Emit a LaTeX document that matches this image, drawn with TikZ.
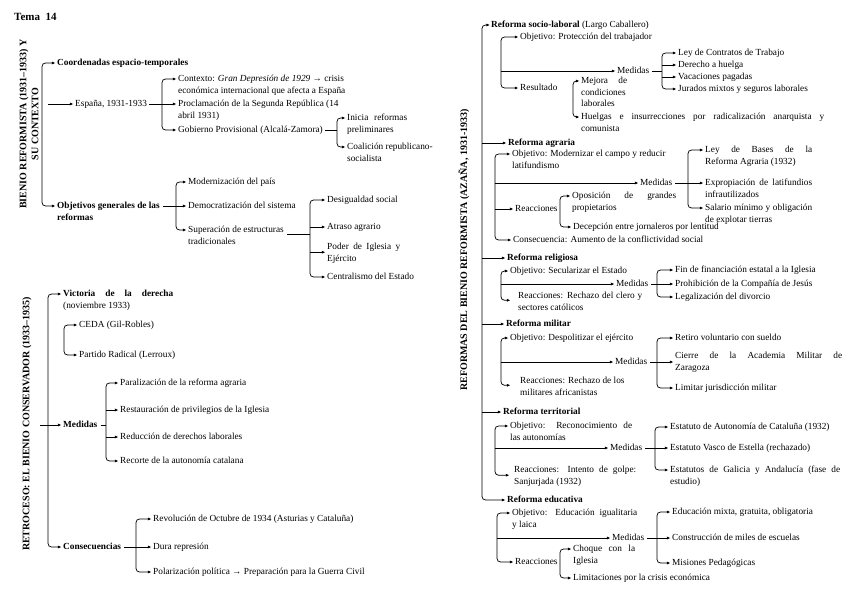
\documentclass[tikz,border=0pt]{standalone}
\usepackage{fontspec}
\setmainfont{Liberation Serif}
\usetikzlibrary{arrows.meta}
\newcommand\fsn{\fontsize{9.3}{11.5}\selectfont}
\newcommand\fsbold{\fontsize{9.3}{11.5}\selectfont\bfseries}
\tikzset{
  arr/.style={draw=black, line width=0.75pt, -{Latex[length=3.6pt,width=3pt]}, shorten >=1.5pt},
  ln/.style={draw=black, line width=0.75pt},
  rc/.style={rounded corners=3.5pt},
  txt/.style={anchor=west, inner sep=0pt, font=\fsn, text height=8.05pt, text depth=3.45pt},
  ml/.style={anchor=north west, inner sep=0pt, font=\fsn, align=left, yshift=5.75pt},
  lab/.style={inner sep=0pt, font=\fontsize{10}{12}\selectfont\bfseries, align=center},
}
\begin{document}
\begin{tikzpicture}[x=1pt,y=-1pt]
\useasboundingbox[fill=white] (0,0) rectangle (848,600);

% Title
\node[anchor=west,inner sep=0pt,font=\fontsize{11}{13}\selectfont\bfseries] (tema) at (14,17) {Tema\ \ 14};

% ===== Left top =====
\node[lab,rotate=90] (lab1) at (29,124) {BIENIO REFORMISTA (1931–1933) Y\\SU CONTEXTO};
\coordinate (L1) at (42,134);
\node[txt,font=\fsbold] (coord) at (57,63) {Coordenadas espacio-temporales};
\node[ml,font=\fsbold] (objg) at (57,206) {\strut Objetivos generales de las\\reformas};
\draw[arr,rc] (L1) |- (coord.west);
\draw[arr,rc] (L1) |- ([yshift=-5.75pt]objg.north west);
\coordinate (espin) at (48,104);
\node[txt] (esp) at (75,104) {España, 1931-1933};
\draw[arr] (espin) -- (esp.west);
\node[ml] (ctx) at (178,79) {\strut Contexto: \textit{Gran Depresión de 1929} → crisis\\económica internacional que afecta a España};
\node[ml] (procl) at (178,104) {\strut Proclamación de la Segunda República (14\\abril 1931)};
\node[txt] (gob) at (178,130) {Gobierno Provisional (Alcalá-Zamora)};
\coordinate (L2) at (162,104);
\draw[arr,shorten <=2pt] (esp.east) -- ([yshift=-5.75pt]procl.north west);
\draw[arr,rc] (L2) |- ([yshift=-5.75pt]ctx.north west);
\draw[arr,rc] (L2) |- (gob.west);
\coordinate (L3) at (337,130);
\draw[ln,shorten <=2pt] (gob.east) -- (L3);
\node[ml] (ini) at (347,118) {\strut\makebox[60pt][s]{Inicia reformas}\\preliminares};
\node[ml] (coal) at (347,147) {\strut Coalición republicano-\\socialista};
\draw[arr,rc] (L3) |- ([yshift=-5.75pt]ini.north west);
\draw[arr,rc] (L3) |- ([yshift=-5.75pt]coal.north west);

\coordinate (L4) at (176,206);
\node[txt] (mod) at (188,182) {Modernización del país};
\node[txt] (dem) at (188,206) {Democratización del sistema};
\node[ml] (sup) at (188,230) {\strut Superación de estructuras\\tradicionales};
\draw[arr,shorten <=3pt] ([yshift=-5.75pt]objg.north east) -- (dem.west);
\draw[arr,rc] (L4) |- (mod.west);
\draw[arr,rc] (L4) |- ([yshift=-5.75pt]sup.north west);

\coordinate (L5) at (310,236);
\draw[ln,shorten <=3pt] (sup.east) -- (sup.east -| L5);
\node[txt] (desig) at (327,200) {Desigualdad social};
\node[txt] (atr) at (327,227) {Atraso agrario};
\node[ml] (pod) at (327,247) {\strut\makebox[73pt][s]{Poder de Iglesia y}\\Ejército};
\node[txt] (cen) at (327,277) {Centralismo del Estado};
\draw[arr,rc] (L5) |- (desig.west);
\draw[arr,rc] (L5) |- (cen.west);
\draw[arr] (atr.west -| L5) -- (atr.west);
\draw[arr] (pod.west -| L5) -- (pod.west);

% ===== Left bottom =====
\node[lab,rotate=90] (lab2) at (27,424) {RETROCESO: EL BIENIO CONSERVADOR (1933–1935)};
\coordinate (L6) at (48,425);
\coordinate (medin) at (40,425);
\node[ml] (vic) at (63,294) {\strut\makebox[110pt][s]{\bfseries Victoria de la derecha}\\(noviembre 1933)};
\node[txt,font=\fsbold] (med1) at (63,425) {Medidas};
\node[txt,font=\fsbold] (cons) at (63,547) {Consecuencias};
\draw[arr,rc] (L6) |- ([yshift=-5.75pt]vic.north west);
\draw[arr,rc] (L6) |- (cons.west);
\draw[arr] (medin) -- (med1.west);
\coordinate (L7) at (64,340);
\node[txt] (ceda) at (79,325) {CEDA (Gil-Robles)};
\node[txt] (prad) at (79,355) {Partido Radical (Lerroux)};
\draw[arr,rc] (L7) |- (ceda.west);
\draw[arr,rc] (L7) |- (prad.west);
\coordinate (L8) at (106,425);
\draw[ln,shorten <=3pt] (med1.east) -- (L8);
\node[txt] (par) at (120,383) {Paralización de la reforma agraria};
\node[txt] (res) at (120,410) {Restauración de privilegios de la Iglesia};
\node[txt] (red) at (120,437) {Reducción de derechos laborales};
\node[txt] (rec) at (120,461) {Recorte de la autonomía catalana};
\draw[arr,rc] (L8) |- (par.west);
\draw[arr,rc] (L8) |- (rec.west);
\draw[arr] (res.west -| L8) -- (res.west);
\draw[arr] (red.west -| L8) -- (red.west);
\coordinate (L9) at (136,547);
\node[txt] (rev) at (153,519) {Revolución de Octubre de 1934 (Asturias y Cataluña)};
\node[txt] (dur) at (153,547) {Dura represión};
\node[txt] (pol) at (153,572) {Polarización política → Preparación para la Guerra Civil};
\draw[arr,shorten <=3pt] (cons.east) -- (dur.west);
\draw[arr,rc] (L9) |- (rev.west);
\draw[arr,rc] (L9) |- (pol.west);

% ===== Right =====
\node[lab,rotate=90] (lab3) at (464,250) {REFORMAS DEL BIENIO REFORMISTA (AZAÑA, 1931-1933)};
\coordinate (R0) at (482,262);
\node[txt] (rsoc) at (491,25) {\textbf{Reforma socio-laboral} (Largo Caballero)};
\node[txt,font=\fsbold] (ragr) at (508,143) {Reforma agraria};
\node[txt,font=\fsbold] (rrel) at (507,258) {Reforma religiosa};
\node[txt,font=\fsbold] (rmil) at (506,324) {Reforma militar};
\node[txt,font=\fsbold] (rter) at (503,412) {Reforma territorial};
\node[txt,font=\fsbold] (redu) at (507,500) {Reforma educativa};
\draw[arr,rc,shorten >=1pt] (R0) |- (rsoc.west);
\draw[arr,rc] (R0) |- (redu.west);
\foreach \n in {ragr,rrel,rmil,rter} \draw[arr] (\n.west -| R0) -- (\n.west);

% socio-laboral
\coordinate (S1) at (501,71);
\node[txt] (sobj) at (520,37) {Objetivo: Protección del trabajador};
\node[txt] (smed) at (617,71) {Medidas};
\node[txt] (sres) at (520,88) {Resultado};
\draw[arr,rc] (S1) |- (sobj.west);
\draw[arr,rc] (S1) |- (sres.west);
\draw[arr] (S1) -- (smed.west);
\coordinate (S2) at (573,99);
\node[ml] (smej) at (581,81) {\strut\makebox[46pt][s]{Mejora de}\\condiciones\\laborales};
\node[ml] (shue) at (581,117) {\strut\makebox[243pt][s]{Huelgas e insurrecciones por radicalización anarquista y}\\comunista};
\draw[arr,rc] (S2) |- ([yshift=-5.75pt]smej.north west);
\draw[arr,rc] (S2) |- ([yshift=-5.75pt]shue.north west);
\coordinate (S3) at (662,71);
\draw[ln,shorten <=3pt] (smed.east) -- (S3);
\node[txt] (sley) at (678,53) {Ley de Contratos de Trabajo};
\node[txt] (sder) at (678,65) {Derecho a huelga};
\node[txt] (svac) at (678,77) {Vacaciones pagadas};
\node[txt] (sjur) at (678,89) {Jurados mixtos y seguros laborales};
\draw[arr,rc] (S3) |- (sley.west);
\draw[arr,rc] (S3) |- (sjur.west);
\draw[arr] (sder.west -| S3) -- (sder.west);
\draw[arr] (svac.west -| S3) -- (svac.west);

% agraria
\coordinate (A1) at (495,183);
\node[ml] (aobj) at (512,154) {\strut Objetivo: Modernizar el campo y reducir\\latifundismo};
\node[txt] (amed) at (640,183) {Medidas};
\node[txt] (area) at (515,209) {Reacciones};
\node[txt] (acon) at (513,240) {Consecuencia: Aumento de la conflictividad social};
\draw[arr,rc] (A1) |- ([yshift=-5.75pt]aobj.north west);
\draw[arr,rc] (A1) |- (acon.west);
\draw[arr] (A1) -- (amed.west);
\draw[arr] (area.west -| A1) -- (area.west);
\coordinate (A2) at (688,183);
\node[ml] (aley) at (705,150) {\strut\makebox[107pt][s]{Ley de Bases de la}\\Reforma Agraria (1932)};
\node[ml] (aexp) at (705,183) {\strut\makebox[107pt][s]{Expropiación de latifundios}\\infrautilizados};
\node[ml] (asal) at (705,208) {\strut\makebox[107pt][s]{Salario mínimo y obligación}\\de explotar tierras};
\draw[arr,shorten <=3pt] (amed.east) -- ([yshift=-5.75pt]aexp.north west);
\draw[arr,rc] (A2) |- ([yshift=-5.75pt]aley.north west);
\draw[arr,rc] (A2) |- ([yshift=-5.75pt]asal.north west);
\coordinate (A3) at (560,212);
\node[ml] (aopo) at (572,196) {\strut\makebox[104pt][s]{Oposición de grandes}\\propietarios};
\node[txt] (adec) at (573,227) {Decepción entre jornaleros por lentitud};
\draw[arr,rc] (A3) |- ([yshift=-5.75pt]aopo.north west);
\draw[arr,rc] (A3) |- (adec.west);

% religiosa
\coordinate (G1) at (501,284);
\node[txt] (gobj) at (510,271) {Objetivo: Secularizar el Estado};
\node[txt] (gmed) at (616,284) {Medidas};
\node[ml] (grea) at (518,296) {\strut\makebox[124pt][s]{Reacciones: Rechazo del clero y}\\sectores católicos};
\draw[arr,rc] (G1) |- (gobj.west);
\draw[arr,rc] (G1) |- ([xshift=-6pt]grea.west);
\draw[arr] (G1) -- (gmed.west);
\coordinate (G2) at (657,284);
\node[txt] (gfin) at (675,270) {Fin de financiación estatal a la Iglesia};
\node[txt] (gpro) at (675,284) {Prohibición de la Compañía de Jesús};
\node[txt] (gleg) at (675,297) {Legalización del divorcio};
\draw[arr,shorten <=3pt] (gmed.east) -- (gpro.west);
\draw[arr,rc] (G2) |- (gfin.west);
\draw[arr,rc] (G2) |- (gleg.west);

% militar
\coordinate (M1) at (501,362);
\node[txt] (mobj) at (510,338) {Objetivo: Despolitizar el ejército};
\node[txt] (mmed) at (615,362) {Medidas};
\node[ml] (mrea) at (520,381) {\strut Reacciones: Rechazo de los\\militares africanistas};
\draw[arr,rc] (M1) |- (mobj.west);
\draw[arr,rc] (M1) |- ([xshift=-8pt]mrea.west);
\draw[arr] (M1) -- (mmed.west);
\coordinate (M2) at (657,362);
\node[txt] (mret) at (675,338) {Retiro voluntario con sueldo};
\node[ml] (mcie) at (675,356) {\strut\makebox[167pt][s]{Cierre de la Academia Militar de}\\Zaragoza};
\node[txt] (mlim) at (675,388) {Limitar jurisdicción militar};
\draw[arr,shorten <=3pt] (mmed.east) -- (mcie.west |- mmed.east);
\draw[arr,rc] (M2) |- (mret.west);
\draw[arr,rc] (M2) |- (mlim.west);

% territorial
\coordinate (T1) at (495,448);
\node[ml] (tobj) at (510,426) {\strut\makebox[122pt][s]{Objetivo: Reconocimiento de}\\las autonomías};
\node[txt] (tmed) at (610,448) {Medidas};
\node[ml] (trea) at (514,470) {\strut\makebox[122pt][s]{Reacciones: Intento de golpe:}\\Sanjurjada (1932)};
\draw[arr,rc] (T1) |- ([yshift=-5.75pt]tobj.north west);
\draw[arr,rc] (T1) |- ([xshift=-3pt]trea.west);
\draw[arr] (T1) -- (tmed.west);
\coordinate (T2) at (655,448);
\node[txt] (tcat) at (670,427) {Estatuto de Autonomía de Cataluña (1932)};
\node[txt] (tvas) at (670,448) {Estatuto Vasco de Estella (rechazado)};
\node[ml] (tgal) at (670,470) {\strut\makebox[170pt][s]{Estatutos de Galicia y Andalucía (fase de}\\estudio)};
\draw[arr,shorten <=3pt] (tmed.east) -- (tvas.west);
\draw[arr,rc] (T2) |- (tcat.west);
\draw[arr,rc] (T2) |- ([yshift=-5.75pt]tgal.north west);

% educativa
\coordinate (E1) at (497,538);
\node[ml] (eobj) at (512,513) {\strut\makebox[125pt][s]{Objetivo: Educación igualitaria}\\y laica};
\node[txt] (emed) at (612,538) {Medidas};
\node[txt] (erea) at (515,562) {Reacciones};
\draw[arr,rc] (E1) |- ([yshift=-5.75pt]eobj.north west);
\draw[arr,rc] (E1) |- (erea.west);
\draw[arr] (E1) -- (emed.west);
\coordinate (E2) at (560,563);
\node[ml] (echo) at (573,549) {\strut\makebox[62pt][s]{Choque con la}\\Iglesia};
\node[txt] (elim) at (573,578) {Limitaciones por la crisis económica};
\draw[arr,rc] (E2) |- ([yshift=-5.75pt]echo.north west);
\draw[arr,rc] (E2) |- (elim.west);
\coordinate (E3) at (657,538);
\node[txt] (emix) at (672,512) {Educación mixta, gratuita, obligatoria};
\node[txt] (econ) at (672,538) {Construcción de miles de escuelas};
\node[txt] (emis) at (672,563) {Misiones Pedagógicas};
\draw[arr,shorten <=3pt] (emed.east) -- (econ.west);
\draw[arr,rc] (E3) |- (emix.west);
\draw[arr,rc] (E3) |- (emis.west);
\end{tikzpicture}
\end{document}
